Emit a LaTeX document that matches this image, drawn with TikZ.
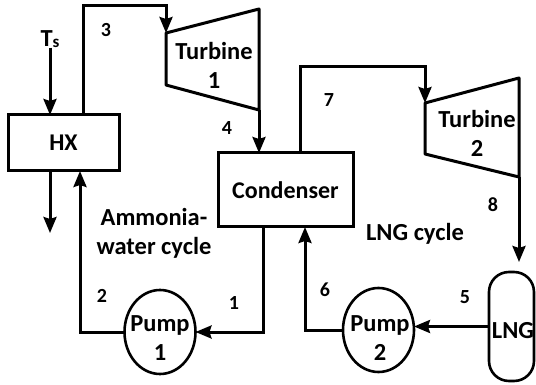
\documentclass[tikz,border=0pt]{standalone}
\usepackage{fontspec}
\setmainfont{Carlito}
\usetikzlibrary{shapes.geometric,arrows.meta}
\begin{document}
\begin{tikzpicture}[
    x=1pt, y=-1pt,
    unit/.style={rectangle, draw=black, line width=3pt, outer sep=0pt, align=center, font=\fontsize{24}{29}\selectfont\bfseries},
    pump/.style={ellipse, draw=black, line width=2.6pt, inner sep=0pt, outer sep=0pt, minimum width=71pt, minimum height=84pt},
    turbine/.style={draw=black, line width=3pt, line join=round},
    labeltext/.style={align=center, inner sep=0pt, font=\fontsize{24.5}{29}\selectfont\bfseries},
    statenum/.style={inner sep=0pt, font=\fontsize{20}{20}\selectfont\bfseries},
    flow/.style={-{Stealth[length=16pt,width=13pt,inset=2pt]}, line width=3pt}
]
\useasboundingbox (0,0) rectangle (536,385);

% Heat exchanger and source
\node[labeltext] (ts) at (50,39) {T\raisebox{-1pt}{\fontsize{17}{17}\selectfont s}};
\node[unit, minimum width=111pt, minimum height=56pt] (hx) at (63.5,143) {HX};
\coordinate (hxout) at (50,233);
\coordinate (hxin) at (80,171);
\coordinate (hxup) at (83,6);

% Turbine 1
\coordinate (t1a) at (166,33);
\coordinate (t1b) at (259,9);
\coordinate (t1c) at (259,110);
\coordinate (t1d) at (166,85);
\draw[turbine] (t1a) -- (t1b) -- (t1c) -- (t1d) -- cycle;
\node[labeltext] (turb1) at (214,65) {Turbine\\1};

% Condenser
\node[unit, minimum width=135pt, minimum height=74pt] (cond) at (285.5,190) {Condenser};
\coordinate (condout) at (263,227);
\coordinate (condup) at (300,67);
\coordinate (condin) at (305,227);

% Turbine 2
\coordinate (t2a) at (425,103);
\coordinate (t2b) at (519,78);
\coordinate (t2c) at (519,177);
\coordinate (t2d) at (425,154);
\draw[turbine] (t2a) -- (t2b) -- (t2c) -- (t2d) -- cycle;
\node[labeltext] (turb2) at (477,133) {Turbine\\2};
\coordinate (tankin) at (519,262);

% Pumps and tank
\node[pump] (pump1) at (160,332) {};
\node[labeltext] (pump1text) at (160,338) {Pump\\1};
\node[pump] (pump2) at (378.5,330) {};
\node[labeltext] (pump2text) at (380,338) {Pump\\2};
\node[unit, rounded corners=20pt, line width=2.6pt, minimum width=45pt, minimum height=109pt] (lng) at (511.5,326.5) {};
\node[labeltext] (lngtext) at (513,331) {LNG};

% Cycle labels
\node[labeltext] (ammonia) at (154,233) {Ammonia-\\water cycle};
\node[labeltext] (lngcycle) at (415,234) {LNG cycle};

% Connections
\draw[flow] (ts.south) -- (ts.south |- hx.north);
\draw[flow] (hxout |- hx.south) -- (hxout);
\draw[flow] (pump1.west) -| (hxin);
\draw[flow] (hxup |- hx.north) -- (hxup) -| (t1a);
\draw[flow] (t1c) -- (t1c |- cond.north);
\draw[flow] (condout) |- (pump1.east);
\draw[flow] (condup |- cond.north) -- (condup) -| (t2a);
\draw[flow] (t2c) -- (tankin);
\draw[flow] (lng.west) -- (lng.west -| pump2.east);
\draw[flow] (pump2.west) -| (condin);

% State points
\node[statenum] (s1) at (234,303) {1};
\node[statenum] (s2) at (102,296) {2};
\node[statenum] (s3) at (106,30) {3};
\node[statenum] (s4) at (227,128) {4};
\node[statenum] (s5) at (465,297) {5};
\node[statenum] (s6) at (325,290) {6};
\node[statenum] (s7) at (329,100) {7};
\node[statenum] (s8) at (493,205) {8};

\end{tikzpicture}
\end{document}
